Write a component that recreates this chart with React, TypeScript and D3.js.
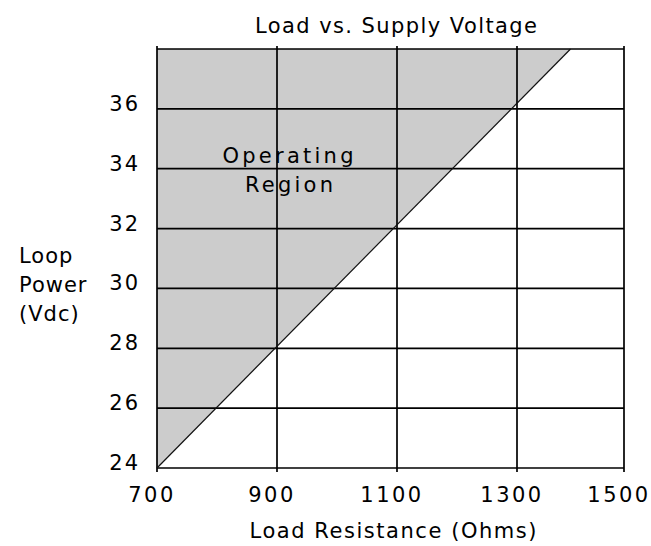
import React from "react";
import * as d3 from "d3";

const title = "Load vs. Supply Voltage";
const xTitle = "Load Resistance (Ohms)";
const yTitleLines = ["Loop", "Power", "(Vdc)"];
const regionLabel = ["Operating", "Region"];

const xTicks = [700, 900, 1100, 1300, 1500];
const yTicks = [24, 26, 28, 30, 32, 34, 36];
const yGrid = [24, 26, 28, 30, 32, 34, 36, 38];

// boundary line of the operating region (ohms, volts)
const boundaryR = [700, 1400];
const boundaryV = [24, 38];

const W = 651;
const H = 546;
const font = "'DejaVu Sans', sans-serif";
const fs = 21;

const App = () => {
  // the last column on the original is narrower, so the scale is piecewise
  const x = d3.scaleLinear().domain([700, 1300, 1500]).range([157, 517, 624]);
  const y = d3.scaleLinear().domain([24, 38]).range([468, 49]);

  const line = d3
    .line<[number, number]>()
    .x(d => x(d[0]))
    .y(d => y(d[1]));

  const pts: [number, number][] = boundaryR.map((r, i) => [r, boundaryV[i]]);
  const area: [number, number][] = [...pts, [boundaryR[0], boundaryV[1]]];

  const [x0, x1] = [x(700), x(1500)];
  const [yb, yt] = [y(24), y(38)];

  return (
    <svg
      width={W}
      height={H}
      style={{ position: "absolute", left: 0, top: 0, background: "#fff" }}
      fontFamily={font}
    >
      <text x={396} y={33} fontSize={fs} textAnchor="middle" textLength={282} lengthAdjust="spacing">
        {title}
      </text>

      <path d={line(area) + "Z"} fill="#cccccc" />

      {yGrid.map(v => (
        <line key={"h" + v} x1={x0} x2={x1} y1={y(v)} y2={y(v)} stroke="#000" strokeWidth={1.7} />
      ))}
      {xTicks.map(v => (
        <line key={"v" + v} x1={x(v)} x2={x(v)} y1={yt - 3} y2={yb + 4} stroke="#000" strokeWidth={1.7} />
      ))}

      <path d={line(pts) || ""} fill="none" stroke="#111" strokeWidth={1.2} />

      <text x={288} y={163} fontSize={fs} textAnchor="middle" textLength={131} lengthAdjust="spacing">
        {regionLabel[0]}
      </text>
      <text x={289} y={192} fontSize={fs} textAnchor="middle" textLength={88} lengthAdjust="spacing">
        {regionLabel[1]}
      </text>

      {yTicks.map(v => (
        <text key={"yl" + v} x={140} y={y(v) + 2} fontSize={fs} textAnchor="end" letterSpacing={2}>
          {v}
        </text>
      ))}
      {xTicks.map(v => (
        <text key={"xl" + v} x={x(v) - 5} y={502} fontSize={fs} textAnchor="middle" letterSpacing={2.5}>
          {v}
        </text>
      ))}

      {yTitleLines.map((t, i) => (
        <text key={t} x={19} y={263 + i * 29} fontSize={fs} letterSpacing={1}>
          {t}
        </text>
      ))}

      <text x={393} y={538} fontSize={fs} textAnchor="middle" textLength={287} lengthAdjust="spacing">
        {xTitle}
      </text>
    </svg>
  );
};

export default App;
